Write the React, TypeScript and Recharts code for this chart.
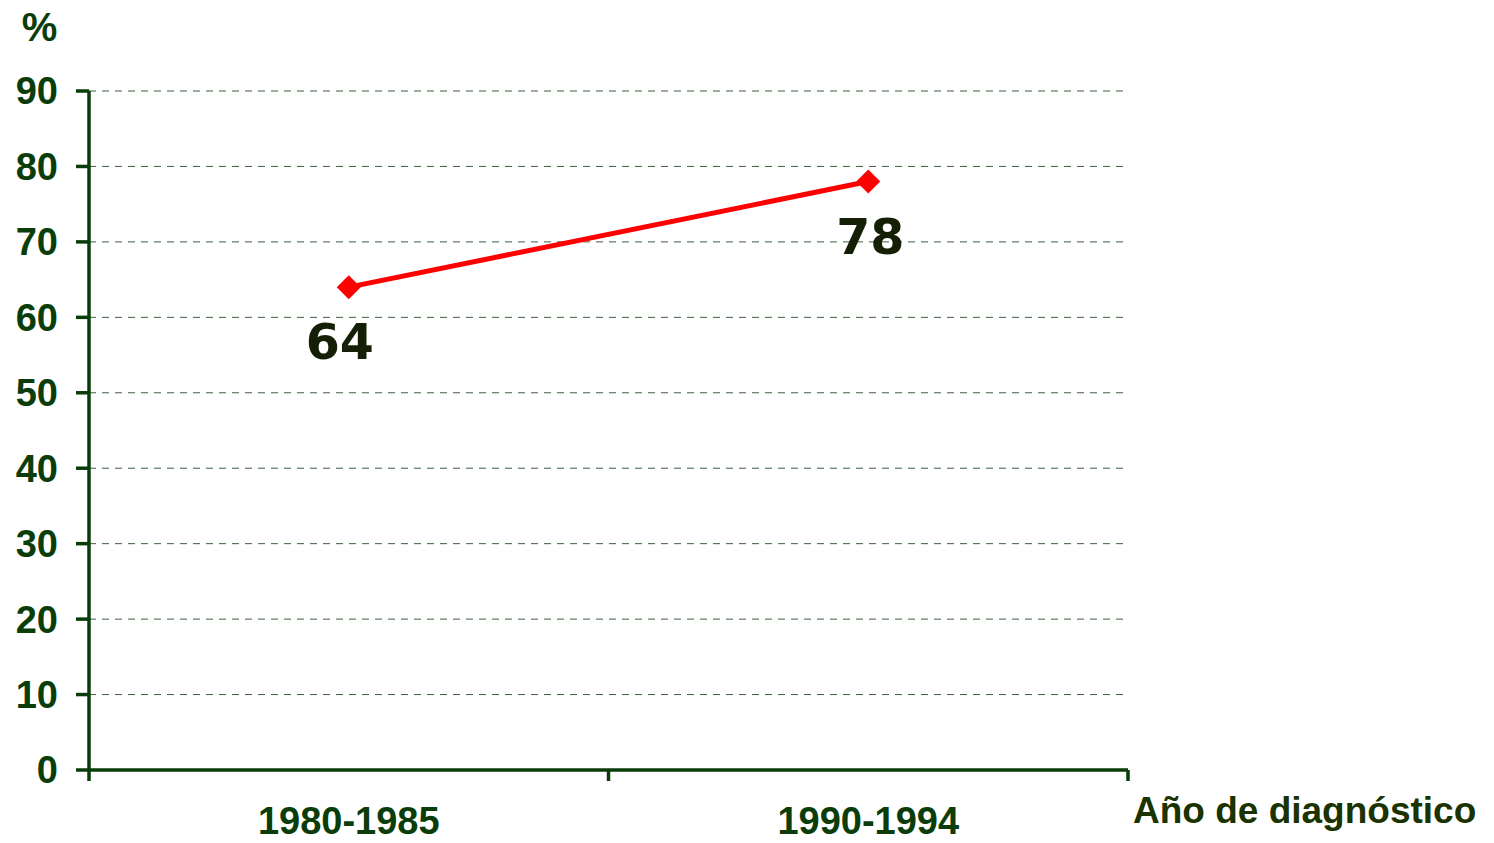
import { ComposedChart, Line, XAxis, YAxis, CartesianGrid, LabelList } from "recharts";

const periods = ["1980-1985", "1990-1994"];
const survival = [64, 78];
const yTicks = [0, 10, 20, 30, 40, 50, 60, 70, 80, 90];

const data = periods.map((p, i) => ({ period: p, value: survival[i] }));

const AXIS = "#0a3c0a";
const TEXT = "#0b3d0b";

function Diamond(props: any) {
  const { cx, cy } = props;
  if (cx == null || cy == null) return null;
  const r = 12;
  return (
    <path
      d={`M${cx},${cy - r} L${cx + r},${cy} L${cx},${cy + r} L${cx - r},${cy} Z`}
      fill="#ff0000"
    />
  );
}

function ValueLabel(props: any) {
  const { x, y, value, index } = props;
  return (
    <text
      x={x + (index === 0 ? -9 : 2)}
      y={y + 72}
      textAnchor="middle"
      fontFamily="'DejaVu Sans', Verdana, sans-serif"
      fontWeight={700}
      fontSize={49}
      fill="#141f06"
    >
      {value}
    </text>
  );
}

// category label centred in its band, with tick marks on the band boundaries (Excel style)
function PeriodTick(props: any) {
  const { x, y, payload, index, visibleTicksCount } = props;
  const half = payload?.offset || 259.75;
  const top = y - 37;
  const last = index === (visibleTicksCount ?? periods.length) - 1;
  return (
    <g>
      <line x1={x - half} x2={x - half} y1={top} y2={top + 11} stroke={AXIS} strokeWidth={3.5} />
      {last && (
        <line x1={x + half} x2={x + half} y1={top} y2={top + 11} stroke={AXIS} strokeWidth={3.5} />
      )}
      <text x={x} y={y} dy="0.71em" textAnchor="middle" fill={TEXT} fontSize={38} fontWeight={700}>
        {payload.value}
      </text>
    </g>
  );
}

export default function App() {
  return (
    <div style={{ position: "absolute", left: 0, top: 0 }}>
      <ComposedChart
        width={1494}
        height={843}
        data={data}
        margin={{ top: 91, right: 366, left: 0, bottom: 0 }}
        style={{ fontFamily: "'Liberation Sans', Arial, sans-serif" }}
      >
        <CartesianGrid
          horizontal
          vertical={false}
          stroke="#3d5f3d"
          strokeDasharray="7 6"
          strokeWidth={1}
        />
        <XAxis
          dataKey="period"
          scale="band"
          height={73}
          interval={0}
          axisLine={{ stroke: AXIS, strokeWidth: 3.5 }}
          tickLine={false}
          tickSize={0}
          tickMargin={37}
          tick={<PeriodTick />}
          label={{
            value: "Año de diagnóstico",
            position: "right",
            offset: 5,
            dy: 3,
            fill: "#1a3300",
            fontSize: 37,
            fontWeight: 700,
          }}
        />
        <YAxis
          domain={[0, 90]}
          ticks={yTicks}
          interval={0}
          width={89}
          tickSize={13}
          tickMargin={18}
          axisLine={{ stroke: AXIS, strokeWidth: 3.5 }}
          tickLine={{ stroke: AXIS, strokeWidth: 3.5 }}
          tick={{ fill: TEXT, fontSize: 38, fontWeight: 700 }}
          label={{
            value: "%",
            position: "top",
            offset: 50,
            dx: -5,
            fill: TEXT,
            fontSize: 40,
            fontWeight: 700,
          }}
        />
        <Line
          dataKey="value"
          stroke="#ff0000"
          strokeWidth={5}
          dot={<Diamond />}
          activeDot={false}
          isAnimationActive={false}
        >
          <LabelList dataKey="value" content={<ValueLabel />} />
        </Line>
      </ComposedChart>
    </div>
  );
}
